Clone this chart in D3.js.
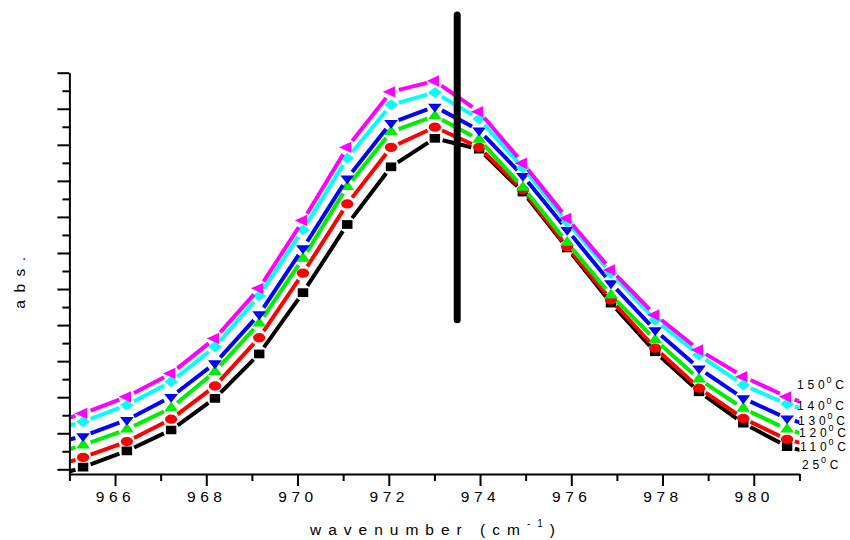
<!DOCTYPE html>
<html>
<head>
<meta charset="utf-8">
<script src="https://cdn.jsdelivr.net/npm/d3@7"></script>
<style>
  body { margin: 0; background: #fff; }
  svg { display: block; }
  text { font-family: "Liberation Sans", Arial, sans-serif; fill: #000; }
</style>
</head>
<body>
<script>
/* wavenumber of each measured point (first and last run past the frame) */
var wavenumbers = [964.34, 965.30, 966.26, 967.23, 968.19, 969.16, 970.12, 971.09, 972.05,
                   973.01, 973.98, 974.94, 975.91, 976.87, 977.84, 978.80, 979.77, 980.73, 981.70];

/* absorbance, arbitrary units, one array per temperature */
var abs25  = [-0.32, 0.06, 0.51, 1.09, 1.97, 3.20, 4.90, 6.79, 8.39, 9.18, 8.88, 7.69, 6.14, 4.61, 3.26, 2.15, 1.28, 0.63, 0.31];
var abs110 = [-0.05, 0.33, 0.77, 1.39, 2.31, 3.65, 5.44, 7.36, 8.93, 9.49, 8.93, 7.75, 6.17, 4.70, 3.36, 2.25, 1.41, 0.83, 0.51];
var abs120 = [0.31, 0.67, 1.11, 1.70, 2.71, 4.05, 5.85, 7.84, 9.36, 9.80, 9.15, 7.82, 6.29, 4.83, 3.59, 2.50, 1.69, 1.11, 0.76];
var abs130 = [0.62, 0.92, 1.37, 2.01, 2.94, 4.30, 6.13, 8.07, 9.61, 10.06, 9.40, 8.14, 6.64, 5.16, 3.86, 2.80, 1.97, 1.41, 1.03];
var abs140 = [0.98, 1.32, 1.78, 2.43, 3.40, 4.81, 6.64, 8.63, 10.11, 10.45, 9.72, 8.36, 6.86, 5.44, 4.14, 3.17, 2.34, 1.81, 1.42];
var abs150 = [1.17, 1.55, 2.01, 2.66, 3.63, 5.02, 6.90, 8.93, 10.47, 10.77, 9.92, 8.49, 6.96, 5.53, 4.28, 3.31, 2.57, 2.01, 1.56];

var temperatures = ["25", "110", "120", "130", "140", "150"];

/* vertical marker line */
var markerX = 973.5, markerY0 = 4.15, markerY1 = 12.6;

/* tick values */
var xTicks = [965, 966, 967, 968, 969, 970, 971, 972, 973, 974, 975, 976, 977, 978, 979, 980, 981];
var yTicks = [0, 0.5, 1, 1.5, 2, 2.5, 3, 3.5, 4, 4.5, 5, 5.5, 6, 6.5, 7, 7.5, 8, 8.5, 9, 9.5, 10, 10.5, 11];

var W = 850, H = 540;
var plot = {left: 69.4, right: 799.4, top: 72.7, bottom: 474};

var svg = d3.select("body").append("svg")
    .attr("width", W)
    .attr("height", H);

var x = d3.scaleLinear().domain([965, 981]).range([plot.left, plot.right]);
var y = d3.scaleLinear().domain([-0.13, 11]).range([plot.bottom, plot.top]);

var colors = ["#000000", "#ff0000", "#00ee00", "#0000ff", "#00ffff", "#ff00ff"];
var values = [abs25, abs110, abs120, abs130, abs140, abs150];

var series = temperatures.map(function(t, i) {
    return {
        id: t,
        color: colors[i],
        values: wavenumbers.map(function(w, j) { return {w: w, a: values[i][j]}; })
    };
});

/* clip to the frame */
svg.append("clipPath").attr("id", "clip")
  .append("rect")
    .attr("x", x(965)).attr("y", 0)
    .attr("width", x(981) - x(965)).attr("height", plot.bottom);

/* marker shapes */
var sq = d3.symbol().type(d3.symbolSquare).size(76)();
var circ = d3.symbol().type(d3.symbolCircle).size(76)();
var tri = d3.symbol().type(d3.symbolTriangle).size(62)();
var dia = d3.symbol().type(d3.symbolSquare).size(66)();
var shapes = [
    {d: sq, t: "scale(1.2,1)"},
    {d: circ, t: "scale(1.25,0.95)"},
    {d: tri, t: "scale(1.15,0.95)"},
    {d: tri, t: "scale(1.15,0.85) rotate(180)"},
    {d: dia, t: "scale(1.2,0.95) rotate(45)"},
    {d: tri, t: "scale(1.2,0.95) rotate(-90)"}
];

/* Origin-style broken line: each segment stops short of the markers */
var gap = 8;
function brokenLine(vals) {
    var p = vals.map(function(d) { return [x(d.w), y(d.a)]; });
    var s = "";
    for (var i = 0; i < p.length - 1; i++) {
        var dx = p[i+1][0] - p[i][0], dy = p[i+1][1] - p[i][1];
        var len = Math.sqrt(dx*dx + dy*dy);
        if (len <= 2 * gap) continue;
        var ux = dx / len, uy = dy / len;
        s += "M" + (p[i][0] + ux*gap) + "," + (p[i][1] + uy*gap) +
             "L" + (p[i+1][0] - ux*gap) + "," + (p[i+1][1] - uy*gap);
    }
    return s;
}

var plotArea = svg.append("g").attr("clip-path", "url(#clip)");

var grp = plotArea.selectAll(".temp")
    .data(series)
    .enter().append("g")
    .attr("class", "temp");

grp.append("path")
    .attr("fill", "none")
    .attr("stroke", function(d) { return d.color; })
    .attr("stroke-width", 4)
    .attr("d", function(d) { return brokenLine(d.values); });

grp.each(function(d, i) {
    d3.select(this).selectAll("path.pt")
        .data(d.values.slice(1, d.values.length - 1))
        .enter().append("path")
        .attr("class", "pt")
        .attr("d", shapes[i].d)
        .attr("fill", d.color)
        .attr("transform", function(v) {
            return "translate(" + x(v.w) + "," + y(v.a) + ") " + shapes[i].t;
        });
});

/* axes */
var xAxis = d3.axisBottom(x)
    .tickValues(xTicks)
    .tickSizeOuter(0)
    .tickFormat(function(d) { return d % 2 === 0 ? d : ""; });

var gx = svg.append("g")
    .attr("transform", "translate(0," + plot.bottom + ")")
    .call(xAxis);
gx.select(".domain").attr("stroke-width", 2).attr("stroke", "#000");
gx.selectAll(".tick line")
    .attr("stroke-width", 2)
    .attr("y2", function(d) { return d % 2 === 0 ? 12 : 7; });
gx.selectAll(".tick text")
    .attr("y", 17)
    .attr("dy", "0.71em")
    .attr("font-size", 15.5)
    .attr("letter-spacing", 4.5)
    .attr("font-family", "Liberation Sans, Arial, sans-serif");

var yAxis = d3.axisLeft(y)
    .tickValues(yTicks)
    .tickSizeOuter(0)
    .tickFormat("");

var gy = svg.append("g")
    .attr("transform", "translate(" + plot.left + ",0)")
    .call(yAxis);
gy.select(".domain").attr("stroke-width", 2).attr("stroke", "#000");
gy.selectAll(".tick line")
    .attr("stroke-width", 2)
    .attr("x2", function(d) { return d % 1 === 0 ? -12 : -7; });

/* axis titles */
var xt = svg.append("text")
    .attr("x", 436)
    .attr("y", 535)
    .attr("text-anchor", "middle")
    .attr("font-size", 15.5)
    .attr("letter-spacing", 7);
xt.append("tspan").text("wavenumber (cm");
xt.append("tspan").attr("font-size", 10).attr("dy", -8).text("-1");
xt.append("tspan").attr("dy", 8).text(")");

svg.append("text")
    .attr("transform", "translate(25,279) rotate(-90)")
    .attr("text-anchor", "middle")
    .attr("font-size", 15.5)
    .attr("letter-spacing", 7.5)
    .text("abs.");

/* temperature labels */
var labelPos = [[802, 469], [800, 451], [799, 437], [798, 425], [797, 410], [797, 389]];
temperatures.forEach(function(t, i) {
    var lt = svg.append("text")
        .attr("x", labelPos[i][0])
        .attr("y", labelPos[i][1])
        .attr("font-size", 12)
        .attr("letter-spacing", 3.8);
    lt.append("tspan").text(t);
    lt.append("tspan").attr("font-size", 9).attr("dy", -6).attr("dx", -2).text("0");
    lt.append("tspan").attr("dy", 6).text("C");
});

/* vertical marker line */
svg.append("line")
    .attr("x1", x(markerX)).attr("x2", x(markerX))
    .attr("y1", y(markerY0)).attr("y2", y(markerY1))
    .attr("stroke", "#000")
    .attr("stroke-width", 7)
    .attr("stroke-linecap", "round");
</script>
</body>
</html>
